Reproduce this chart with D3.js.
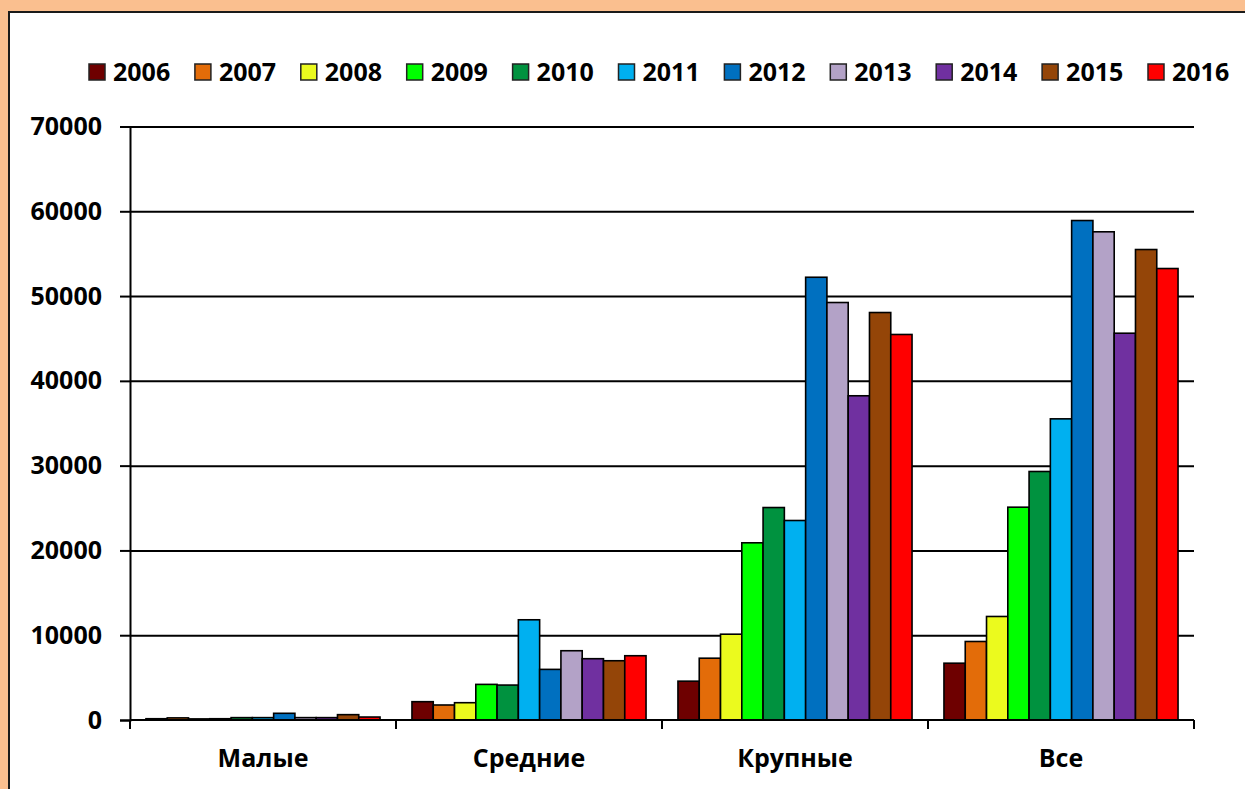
<!DOCTYPE html>
<html>
<head>
<meta charset="utf-8">
<script src="https://cdn.jsdelivr.net/npm/d3@7"></script>
<style>
  html, body { margin: 0; padding: 0; background: #FABF8F; overflow: hidden; }
  svg { display: block; }
  text { font-family: "Open Sans", "Liberation Sans", sans-serif; font-weight: 700; fill: #000; }
</style>
</head>
<body>
<svg id="vis" width="1245" height="789"></svg>
<script>
// data
var categories = ["Малые", "Средние", "Крупные", "Все"];
var years = ["2006", "2007", "2008", "2009", "2010", "2011", "2012", "2013", "2014", "2015", "2016"];
var colors = ["#6E0000", "#E36C09", "#EBFA1E", "#00FF00", "#00923F", "#00B0F0", "#0070C0", "#B3A2C7", "#7030A0", "#944508", "#FF0000"];
var small  = [150, 250, 130, 150, 280, 280, 790, 280, 280, 630, 350];
var medium = [2160, 1770, 2040, 4200, 4120, 11820, 5970, 8170, 7230, 6990, 7580];
var large  = [4580, 7290, 10120, 20900, 25060, 23530, 52220, 49240, 38240, 48060, 45470];
var total  = [6700, 9260, 12210, 25100, 29310, 35520, 58910, 57580, 45620, 55490, 53250];
var yTicks = [0, 10000, 20000, 30000, 40000, 50000, 60000, 70000];

var seriesByCat = [small, medium, large, total];

var svg = d3.select("#vis");

// white chart panel on the orange background
svg.append("rect")
    .attr("x", 9).attr("y", 12)
    .attr("width", 1260).attr("height", 800)
    .attr("fill", "#fff")
    .attr("stroke", "#1a1a1a")
    .attr("stroke-width", 2);

var plotLeft = 130, plotRight = 1194, plotTop = 126.5, plotBottom = 720;

var x = d3.scaleBand().domain(categories).range([plotLeft, plotRight]).padding(0);
var xi = d3.scaleBand().domain(years).range([0, x.bandwidth()]).paddingInner(0).paddingOuter(0.75);
var y = d3.scaleLinear().domain([0, 70000]).range([plotBottom, plotTop]);

// grid lines
svg.append("g")
    .attr("transform", "translate(" + plotLeft + ",0)")
    .call(d3.axisLeft(y).tickValues(yTicks.slice(1)).tickSize(-(plotRight - plotLeft)).tickFormat(""))
    .call(g => g.select(".domain").remove())
    .selectAll("line").attr("stroke", "#000").attr("stroke-width", 2);

// bars
var groups = svg.selectAll("g.cat")
    .data(categories)
    .enter().append("g")
    .attr("class", "cat")
    .attr("transform", d => "translate(" + x(d) + ",0)");

groups.selectAll("rect")
    .data((d, i) => seriesByCat[i].map((v, j) => ({ year: years[j], value: v, color: colors[j] })))
    .enter().append("rect")
    .attr("x", d => xi(d.year))
    .attr("y", d => y(d.value))
    .attr("width", xi.bandwidth())
    .attr("height", d => plotBottom - y(d.value))
    .attr("fill", d => d.color)
    .attr("stroke", "#000")
    .attr("stroke-width", 1.6);

// y axis
var yAxis = svg.append("g")
    .attr("transform", "translate(" + plotLeft + ",0)")
    .call(d3.axisLeft(y).tickValues(yTicks).tickSize(10).tickPadding(18).tickFormat(d3.format("d")));
yAxis.select(".domain").attr("stroke", "#000").attr("stroke-width", 2);
yAxis.selectAll("line").attr("stroke", "#000").attr("stroke-width", 2);
yAxis.selectAll("text")
    .style("font-family", "'Open Sans', 'Liberation Sans', sans-serif")
    .style("font-weight", 700)
    .style("font-size", "25px")
    .attr("fill", "#000");

// x axis line and category boundaries
svg.append("line")
    .attr("x1", plotLeft).attr("x2", plotRight)
    .attr("y1", plotBottom).attr("y2", plotBottom)
    .attr("stroke", "#000").attr("stroke-width", 2);

var bounds = categories.map(c => x(c)).concat([x(categories[categories.length - 1]) + x.bandwidth()]);
svg.selectAll("line.xtick")
    .data(bounds)
    .enter().append("line")
    .attr("class", "xtick")
    .attr("x1", d => d).attr("x2", d => d)
    .attr("y1", plotBottom).attr("y2", plotBottom + 9)
    .attr("stroke", "#000").attr("stroke-width", 2);

svg.selectAll("text.cat-label")
    .data(categories)
    .enter().append("text")
    .attr("class", "cat-label")
    .attr("x", d => x(d) + x.bandwidth() / 2)
    .attr("y", 767)
    .attr("text-anchor", "middle")
    .style("font-size", "25px")
    .text(d => d);

// legend
var legend = svg.selectAll("g.legend")
    .data(years)
    .enter().append("g")
    .attr("class", "legend")
    .attr("transform", (d, i) => "translate(" + (89 + i * 105.9) + ",64)");

legend.append("rect")
    .attr("width", 16).attr("height", 16)
    .attr("fill", (d, i) => colors[i])
    .attr("stroke", "#222")
    .attr("stroke-width", 1.5);

legend.append("text")
    .attr("x", 24)
    .attr("y", 17)
    .style("font-size", "25px")
    .text(d => d);
</script>
</body>
</html>
